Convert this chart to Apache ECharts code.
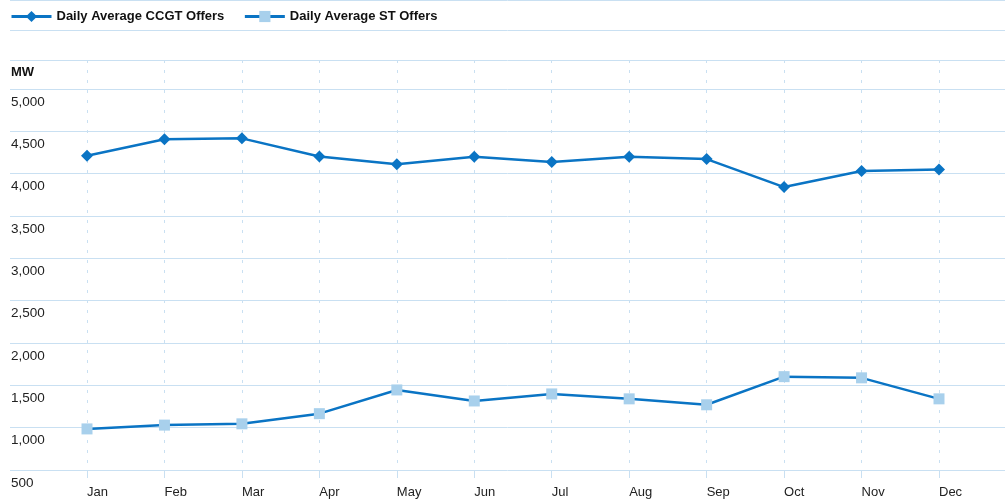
<!DOCTYPE html>
<html>
<head>
<meta charset="utf-8">
<title>Daily Average Offers</title>
<script src="https://cdn.jsdelivr.net/npm/echarts@6/dist/echarts.min.js"></script>
<style>
  html, body { margin: 0; padding: 0; background: #fff; }
  #chart { width: 1005px; height: 502px; }
</style>
</head>
<body>
<div id="chart"></div>
<script>
// values
const months = ['Jan', 'Feb', 'Mar', 'Apr', 'May', 'Jun', 'Jul', 'Aug', 'Sep', 'Oct', 'Nov', 'Dec']
const ccgtOffers = [4210, 4405, 4415, 4200, 4110, 4197, 4135, 4197, 4170, 3840, 4030, 4048]
const stOffers = [985, 1030, 1045, 1165, 1445, 1315, 1398, 1340, 1270, 1602, 1588, 1340]
const yMin = 500
const yMax = 5340 // top of plot band, holds the unit label row
const yStep = 500

const lineBlue = '#0a74c4'
const markerLight = '#a8d0ec'
const gridBlue = '#c9e0f2'
const font = '"Liberation Sans", Arial, Helvetica, sans-serif'

const chart = echarts.init(document.getElementById('chart'))

let option = {
  animation: false,
  textStyle: { fontFamily: font },
  legend: {
    left: 5,
    top: 5,
    itemWidth: 40,
    itemHeight: 14,
    itemGap: 19,
    lineStyle: { width: 3 },
    textStyle: { fontSize: 13, fontWeight: 'bold', color: '#111', fontFamily: font },
    data: ['Daily Average CCGT Offers', 'Daily Average ST Offers']
  },
  graphic: [
    { type: 'line', shape: { x1: 10, y1: 0.5, x2: 1005, y2: 0.5 }, style: { stroke: gridBlue, lineWidth: 1 } },
    { type: 'line', shape: { x1: 10, y1: 30.5, x2: 1005, y2: 30.5 }, style: { stroke: gridBlue, lineWidth: 1 } }
  ],
  grid: [
    { left: 87, right: 66, top: 60, bottom: 32 },
    { left: 10, right: 0, top: 60, bottom: 32 }
  ],
  xAxis: [
    {
      type: 'category',
      gridIndex: 0,
      data: months,
      boundaryGap: false,
      axisLine: { show: false },
      axisTick: { show: true, length: 8, lineStyle: { color: gridBlue } },
      axisLabel: { align: 'left', margin: 16, fontSize: 13, color: '#222' },
      splitLine: { show: true, lineStyle: { color: gridBlue, type: [3, 7], width: 1 } }
    },
    { type: 'value', gridIndex: 1, show: false }
  ],
  yAxis: [
    { type: 'value', gridIndex: 0, min: yMin, max: yMax, interval: yStep, show: false },
    {
      type: 'value',
      gridIndex: 1,
      min: yMin,
      max: yMax,
      interval: yStep,
      axisLine: { show: false },
      axisTick: { show: false },
      splitLine: { show: true, lineStyle: { color: gridBlue, width: 1 } },
      axisLabel: {
        inside: true,
        showMaxLabel: true,
        showMinLabel: true,
        margin: 1,
        align: 'left',
        verticalAlign: 'top',
        padding: [6, 0, 0, 0],
        fontSize: 13.5,
        color: '#222',
        formatter: function (v) {
          if (v === yMax) return '{mw|MW}'
          return v.toLocaleString('en-US')
        },
        rich: {
          mw: { fontSize: 13, fontWeight: 'bold', color: '#111', fontFamily: font }
        }
      }
    }
  ],
  series: [
    {
      name: 'Daily Average CCGT Offers',
      type: 'line',
      xAxisIndex: 0,
      yAxisIndex: 0,
      data: ccgtOffers,
      symbol: 'diamond',
      symbolSize: 12,
      lineStyle: { color: lineBlue, width: 2.5 },
      itemStyle: { color: lineBlue }
    },
    {
      name: 'Daily Average ST Offers',
      type: 'line',
      xAxisIndex: 0,
      yAxisIndex: 0,
      data: stOffers,
      symbol: 'rect',
      symbolSize: 11,
      lineStyle: { color: lineBlue, width: 2.5 },
      itemStyle: { color: markerLight }
    }
  ]
}
chart.setOption(option)
</script>
</body>
</html>
